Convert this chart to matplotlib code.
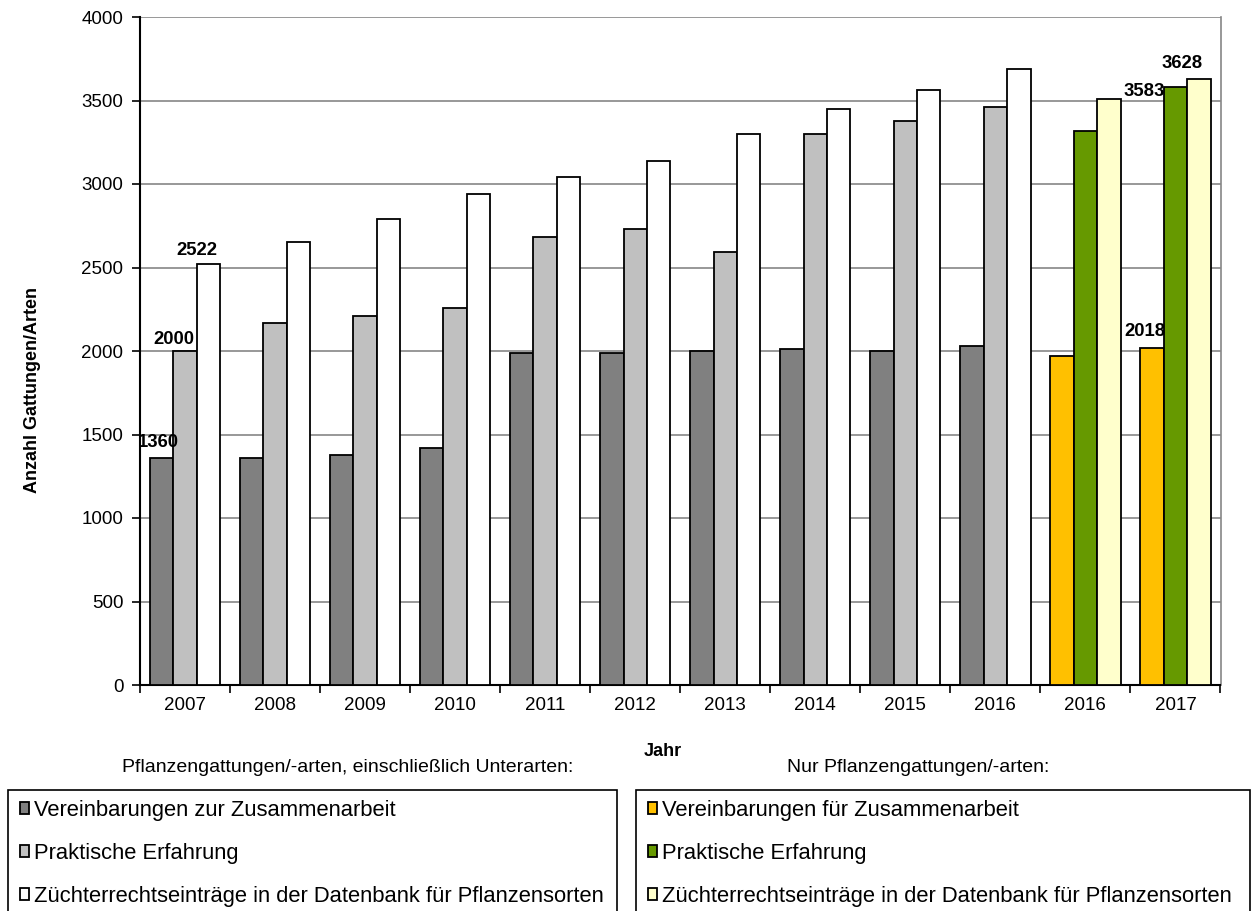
import numpy as np
import matplotlib.pyplot as plt
from matplotlib.patches import Rectangle

plt.rcParams['font.family'] = ['Liberation Sans', 'DejaVu Sans']

# Jahre (die letzten beiden Gruppen: nur Gattungen/Arten)
years = ['2007', '2008', '2009', '2010', '2011', '2012', '2013', '2014', '2015', '2016', '2016', '2017']

# Pflanzengattungen/-arten, einschließlich Unterarten (2007-2016)
koop_alt = [1360, 1360, 1380, 1420, 1990, 1990, 2000, 2010, 2000, 2030]
praxis_alt = [2000, 2170, 2210, 2260, 2680, 2730, 2590, 3300, 3380, 3460]
datenbank_alt = [2522, 2650, 2790, 2940, 3040, 3140, 3300, 3450, 3560, 3690]

# Nur Pflanzengattungen/-arten (2016, 2017)
koop_neu = [1970, 2018]
praxis_neu = [3320, 3583]
datenbank_neu = [3510, 3628]

W, H = 1252, 911
fig = plt.figure(figsize=(W / 100, H / 100), dpi=100)
ax = fig.add_axes([140 / W, 1 - 685 / H, 1080.5 / W, 668 / H])

x_alt = np.arange(len(koop_alt))
x_neu = np.arange(len(koop_alt), len(years))
bw = 0.26
kw = dict(edgecolor='black', linewidth=1.3, zorder=3)

b1 = ax.bar(x_alt - bw, koop_alt, bw, color='#808080', label='Vereinbarungen zur Zusammenarbeit', **kw)
b2 = ax.bar(x_alt, praxis_alt, bw, color='#c0c0c0', label='Praktische Erfahrung', **kw)
b3 = ax.bar(x_alt + bw, datenbank_alt, bw, color='white',
            label='Züchterrechtseinträge in der Datenbank für Pflanzensorten', **kw)
b4 = ax.bar(x_neu - bw, koop_neu, bw, color='#ffc000', label='Vereinbarungen für Zusammenarbeit', **kw)
b5 = ax.bar(x_neu, praxis_neu, bw, color='#669900', label='Praktische Erfahrung', **kw)
b6 = ax.bar(x_neu + bw, datenbank_neu, bw, color='#ffffcc',
            label='Züchterrechtseinträge in der Datenbank für Pflanzensorten', **kw)

# Werte-Beschriftungen (Offsets in Pixel)
def label(x, v, dx, dy):
    ax.annotate(str(v), (x, v), xytext=(dx, dy), textcoords='offset pixels',
                ha='center', va='center', fontsize=13.3, fontweight='bold', zorder=5)

label(x_alt[0] - bw, koop_alt[0], -3, 15)
label(x_alt[0], praxis_alt[0], -11, 12)
label(x_alt[0] + bw, datenbank_alt[0], -12, 13)
label(x_neu[1] - bw, koop_neu[1], -7, 16)
label(x_neu[1], praxis_neu[1], -31, -5)
label(x_neu[1] + bw, datenbank_neu[1], -17, 16)

ax.set_xlim(-0.5, len(years) - 0.5)
ax.set_ylim(0, 4000)
ax.set_yticks(np.arange(0, 4001, 500))
ax.yaxis.grid(True, color='#868686', linewidth=1.2, zorder=0)
ax.set_axisbelow(True)

ax.set_xticks(np.arange(len(years) + 1) - 0.5)
ax.set_xticklabels([])
ax.set_xticks(np.arange(len(years)), minor=True)
ax.set_xticklabels(years, minor=True)
ax.tick_params(axis='x', which='major', direction='out', length=6, width=1.2)
ax.tick_params(axis='x', which='minor', length=0, pad=9, labelsize=13.5)
ax.tick_params(axis='y', direction='out', length=6, width=1.2, labelsize=13.5, pad=6)

for s in ['left', 'bottom']:
    ax.spines[s].set_linewidth(1.5)
ax.spines['right'].set_color('#868686')
ax.spines['right'].set_linewidth(1.2)
ax.spines['top'].set_visible(False)

ax.set_ylabel('Anzahl Gattungen/Arten', fontsize=13, fontweight='bold')
ax.yaxis.set_label_coords(-99 / 1080.5, (685 - 390) / 668)
fig.text(663 / W, 1 - 752 / H, 'Jahr', fontsize=13, fontweight='bold', ha='center', va='center')

# Legenden unten
fig.text(348 / W, 1 - 768 / H, 'Pflanzengattungen/-arten, einschließlich Unterarten:',
         fontsize=14, ha='center', va='center')
fig.text(918 / W, 1 - 768 / H, 'Nur Pflanzengattungen/-arten:',
         fontsize=14, ha='center', va='center')

for (x0, x1), handles in [((8, 617), [b1, b2, b3]), ((636, 1250), [b4, b5, b6])]:
    fig.patches.append(Rectangle((x0 / W, -0.05), (x1 - x0) / W, 0.05 + 1 - 790 / H,
                                 transform=fig.transFigure, fill=False,
                                 edgecolor='black', linewidth=1.2))
    fig.legend(handles=handles, loc='upper left',
               bbox_to_anchor=((x0 + 3) / W, 1 - 791 / H), frameon=False,
               fontsize=15.8, handlelength=0.42, handleheight=0.42,
               handletextpad=0.25, labelspacing=1.0, borderaxespad=0)

fig.savefig('out.png', dpi=100)
